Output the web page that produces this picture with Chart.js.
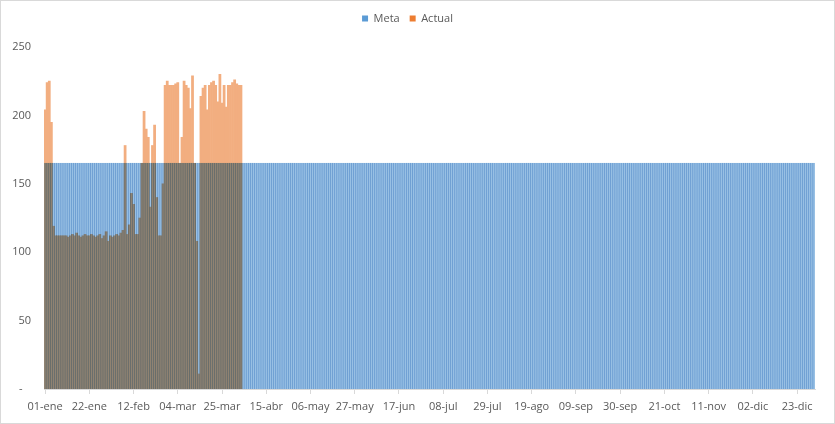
<!DOCTYPE html>
<html>
<head>
<meta charset="utf-8">
<script src="https://cdn.jsdelivr.net/npm/chart.js@4/dist/chart.umd.min.js"></script>
<style>
html,body{margin:0;padding:0;background:#fff;}
#wrap{width:835px;height:424px;position:relative;}
#c{width:835px;height:424px;display:block;}
</style>
</head>
<body>
<div id="wrap"><canvas id="c" width="835" height="424"></canvas></div>
<script>
// Category labels (leap year, dd-mmm Spanish)
const monthNames = ['ene','feb','mar','abr','may','jun','jul','ago','sep','oct','nov','dic'];
const monthDays = [31,29,31,30,31,30,31,31,30,31,30,31];
const categories = [];
monthNames.forEach((m, i) => {
  for (let d = 1; d <= monthDays[i]; d++) {
    categories.push((d < 10 ? '0' + d : '' + d) + '-' + m);
  }
});
const labelEvery = 21;

// Meta series (366 days)
const meta = [
165,165,165,165,165,165,165,165,165,165,165,165,165,165,165,165,165,165,165,165,165,165,165,165,165,165,165,165,165,165,
165,165,165,165,165,165,165,165,165,165,165,165,165,165,165,165,165,165,165,165,165,165,165,165,165,165,165,165,165,165,
165,165,165,165,165,165,165,165,165,165,165,165,165,165,165,165,165,165,165,165,165,165,165,165,165,165,165,165,165,165,
165,165,165,165,165,165,165,165,165,165,165,165,165,165,165,165,165,165,165,165,165,165,165,165,165,165,165,165,165,165,
165,165,165,165,165,165,165,165,165,165,165,165,165,165,165,165,165,165,165,165,165,165,165,165,165,165,165,165,165,165,
165,165,165,165,165,165,165,165,165,165,165,165,165,165,165,165,165,165,165,165,165,165,165,165,165,165,165,165,165,165,
165,165,165,165,165,165,165,165,165,165,165,165,165,165,165,165,165,165,165,165,165,165,165,165,165,165,165,165,165,165,
165,165,165,165,165,165,165,165,165,165,165,165,165,165,165,165,165,165,165,165,165,165,165,165,165,165,165,165,165,165,
165,165,165,165,165,165,165,165,165,165,165,165,165,165,165,165,165,165,165,165,165,165,165,165,165,165,165,165,165,165,
165,165,165,165,165,165,165,165,165,165,165,165,165,165,165,165,165,165,165,165,165,165,165,165,165,165,165,165,165,165,
165,165,165,165,165,165,165,165,165,165,165,165,165,165,165,165,165,165,165,165,165,165,165,165,165,165,165,165,165,165,
165,165,165,165,165,165,165,165,165,165,165,165,165,165,165,165,165,165,165,165,165,165,165,165,165,165,165,165,165,165,
165,165,165,165,165,165
];

// Actual series (01-ene .. early abr)
const actual = [
204,224,225,195,119,112,112,112,112,112,
112,111,112,113,112,114,112,111,112,113,
112,112,113,112,111,112,113,110,112,115,
108,112,111,112,113,112,114,116,178,113,
120,143,135,113,113,125,165,203,190,184,
133,178,193,140,112,112,150,222,225,222,
222,222,223,224,165,184,225,222,220,205,
229,165,108,11,214,220,222,204,222,224,
225,222,210,230,209,222,206,222,222,224,
226,223,222,222
];

const yTicks = [0,50,100,150,200,250];

const borderPlugin = {
  id: 'outerBorder',
  beforeDraw(chart) {
    const ctx = chart.ctx;
    ctx.save();
    ctx.fillStyle = '#ffffff';
    ctx.fillRect(0, 0, chart.width, chart.height);
    ctx.strokeStyle = '#d9d9d9';
    ctx.lineWidth = 1;
    ctx.strokeRect(0.5, 0.5, chart.width - 1, chart.height - 1);
    ctx.restore();
  },
  // thin interleaved bars blend visually; emulate with multiply compositing
  // (dataset 0 is drawn last by Chart.js, so it gets the multiply mode)
  beforeDatasetDraw(chart, args) {
    if (args.index === 0) {
      chart.ctx.save();
      chart.ctx.globalCompositeOperation = 'multiply';
    }
  },
  afterDatasetDraw(chart, args) {
    if (args.index === 0) chart.ctx.restore();
  }
};

const FONT = "'Open Sans', 'Noto Sans', sans-serif";

new Chart(document.getElementById('c'), {
  type: 'bar',
  data: {
    labels: categories,
    datasets: [
      { label: 'Meta', data: meta, backgroundColor: '#98C0E4', borderWidth: 0, grouped: false,
        xAxisID: 'x', yAxisID: 'y', barPercentage: 1.0, categoryPercentage: 1.0 },
      { label: 'Actual', data: actual, backgroundColor: '#F2AE80', borderWidth: 0, grouped: false,
        xAxisID: 'x', yAxisID: 'y', barPercentage: 1.0, categoryPercentage: 1.0 }
    ]
  },
  options: {
    responsive: false,
    animation: false,
    layout: { padding: { left: 0, right: 20, top: 3, bottom: 0 } },
    plugins: {
      tooltip: { enabled: false },
      legend: {
        position: 'top',
        align: 'center',
        labels: {
          boxWidth: 6, boxHeight: 6,
          font: { family: FONT, size: 11 },
          color: '#595959',
          padding: 10,
          generateLabels: function(chart) {
            const cols = ['#5B9BD5', '#ED7D31'];
            return chart.data.datasets.map((ds, i) => ({
              text: ds.label, fillStyle: cols[i], strokeStyle: cols[i], lineWidth: 0,
              hidden: false, datasetIndex: i, fontColor: '#595959'
            }));
          }
        }
      }
    },
    scales: {
      x: {
        type: 'category',
        position: 'bottom',
        grid: { display: true, drawOnChartArea: false, drawTicks: true, tickLength: 5, color: '#d9d9d9', offset: false },
        border: { display: true, color: '#d9d9d9' },
        ticks: {
          autoSkip: false,
          maxRotation: 0,
          minRotation: 0,
          padding: 6,
          color: '#595959',
          font: { family: FONT, size: 11 },
          callback: function(val, idx) {
            return idx % labelEvery === 0 ? categories[idx] : null;
          }
        },
        afterFit: function(s) { s.height = 35; }
      },
      y: {
        min: 0, max: 250,
        grid: { display: false, drawTicks: false },
        border: { display: false },
        afterBuildTicks: function(s) { s.ticks = yTicks.map(v => ({ value: v })); },
        ticks: {
          padding: 13,
          color: '#595959',
          font: { family: FONT, size: 11 },
          callback: function(v) { return v === 0 ? '-   ' : v; }
        },
        afterFit: function(s) { s.width = 44; }
      },
      spacerTop: {
        type: 'linear',
        axis: 'x',
        position: 'top',
        display: true,
        grid: { display: false, drawTicks: false },
        border: { display: false },
        ticks: { display: false },
        afterFit: function(s) { s.height = 13; }
      }
    }
  },
  plugins: [borderPlugin]
});
</script>
</body>
</html>
